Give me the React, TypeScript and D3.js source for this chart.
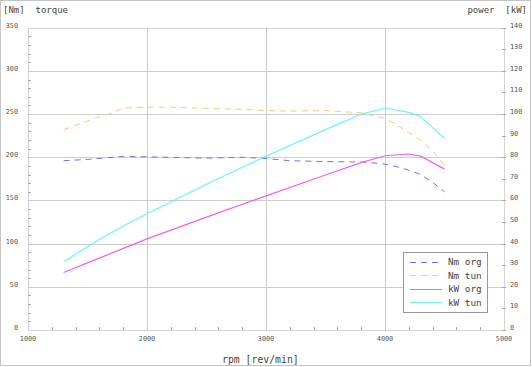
import React from "react";
import * as d3 from "d3";

const rpm = [1300, 1500, 1800, 2000, 2500, 2800, 3000, 3200, 3500, 3800, 3900, 4000, 4100, 4200, 4300, 4400, 4500];
const nmOrg = [196, 197.5, 201, 200.5, 199, 200, 198.5, 196, 195, 194.5, 193.5, 192, 189, 185, 180, 171, 160];
const nmTunRpm = [1300, 1400, 1500, 1600, 1700, 1800, 2000, 2200, 2500, 2800, 3000, 3200, 3500, 3800, 3900, 4000, 4100, 4200, 4300, 4400, 4500];
const nmTunVals = [232, 237, 242, 247, 251, 257, 258, 258, 256.5, 255.5, 254, 253.5, 254, 251.5, 248, 245, 237.5, 228.5, 219.5, 207, 191];
const kwRpm = [1300, 1500, 1600, 1800, 2000, 2500, 3000, 3500, 3800, 4000, 4200, 4300, 4500];
const kwOrg = [26.6, 31.1, 33.3, 37.8, 42.2, 52.3, 62.1, 71.8, 77.5, 80.7, 81.5, 80.5, 74.5];
const kwTun = [31.6, 38.6, 41.9, 48.2, 53.8, 67.5, 80.5, 92.8, 100, 102.8, 100.8, 98.8, 88.7];

const leftTicks = [0, 50, 100, 150, 200, 250, 300, 350];
const rightTicks = [0, 10, 20, 30, 40, 50, 60, 70, 80, 90, 100, 110, 120, 130, 140];
const xTicks = [1000, 2000, 3000, 4000, 5000];
const legendLabels = ["Nm org", "Nm tun", "kW org", "kW tun"];

const W = 532;
const H = 367;
const x = d3.scaleLinear().domain([1000, 5000]).range([28, 504]);
const yL = d3.scaleLinear().domain([0, 350]).range([330, 27.7]);
const yR = d3.scaleLinear().domain([0, 140]).range([330, 27.7]);

const BLUE = "#7272ee";
const ORANGE = "#ffc66c";
const MAGENTA = "#f060f0";
const CYAN = "#66f6f6";
const colors = [BLUE, ORANGE, MAGENTA, CYAN];
const dashes = ["6,5", "6,5", undefined, undefined];

const mono = "'DejaVu Sans Mono', monospace";

export default function App() {
  const lineL = d3.line<[number, number]>().x((d) => x(d[0])).y((d) => yL(d[1]));
  const lineR = d3.line<[number, number]>().x((d) => x(d[0])).y((d) => yR(d[1]));
  const blueD = lineL(rpm.map((r, i) => [r, nmOrg[i]]) as [number, number][]);
  const orangeD = lineL(nmTunRpm.map((r, i) => [r, nmTunVals[i]]) as [number, number][]);
  const pinkD = lineR(kwRpm.map((r, i) => [r, kwOrg[i]]) as [number, number][]);
  const cyanD = lineR(kwRpm.map((r, i) => [r, kwTun[i]]) as [number, number][]);

  const minorY = d3.range(0, 351, 10).filter((v) => v % 50 !== 0);
  const minorX = d3.range(1000, 5001, 200).filter((v) => v % 1000 !== 0);

  const [x0, x1] = x.range();
  const yTop = yL(350);
  const yBot = yL(0);

  return (
    <svg width={W} height={H} style={{ position: "absolute", left: 0, top: 0, background: "#fff" }}>
      <rect x={0.5} y={0.5} width={530} height={365} fill="#fff" stroke="#c4c4c4" />
      {leftTicks.filter((v) => v > 0 && v < 350).map((v) => (
        <line key={"gy" + v} x1={x0} x2={x1} y1={Math.round(yL(v)) + 0.5} y2={Math.round(yL(v)) + 0.5} stroke="#cccccc" />
      ))}
      {xTicks.filter((v) => v > 1000 && v < 5000).map((v) => (
        <line key={"gx" + v} x1={Math.round(x(v)) + 0.5} x2={Math.round(x(v)) + 0.5} y1={yTop} y2={yBot} stroke="#cccccc" />
      ))}
      <rect x={x0 + 0.5} y={Math.round(yTop) + 0.5} width={x1 - x0} height={Math.round(yBot) - Math.round(yTop)} fill="none" stroke="#aaaaaa" strokeDasharray="1,1" />
      {minorY.map((v) => (
        <line key={"my" + v} x1={x0} x2={x0 + 3} y1={Math.round(yL(v)) + 0.5} y2={Math.round(yL(v)) + 0.5} stroke="#aaaaaa" />
      ))}
      {minorX.map((v) => (
        <line key={"mx" + v} x1={Math.round(x(v)) + 0.5} x2={Math.round(x(v)) + 0.5} y1={yBot} y2={yBot - 3} stroke="#aaaaaa" />
      ))}
      {rightTicks.map((v) => (
        <line key={"ry" + v} x1={x1 - 2} x2={x1 + 2} y1={Math.round(yR(v)) + 0.5} y2={Math.round(yR(v)) + 0.5} stroke="#aaaaaa" />
      ))}
      {leftTicks.map((v) => (
        <text key={"ll" + v} x={18} y={yL(v)} textAnchor="end" fontFamily={mono} fontSize={6.8} fill="#555">{v}</text>
      ))}
      {rightTicks.map((v) => (
        <text key={"rl" + v} x={510} y={yR(v)} fontFamily={mono} fontSize={6.8} fill="#555">{v}</text>
      ))}
      {xTicks.map((v) => (
        <text key={"xl" + v} x={x(v)} y={340.5} textAnchor="middle" fontFamily={mono} fontSize={6.8} fill="#555">{v}</text>
      ))}
      <path d={blueD || ""} fill="none" stroke={BLUE} strokeWidth={1} strokeDasharray="6,5" />
      <path d={orangeD || ""} fill="none" stroke={ORANGE} strokeWidth={1} strokeDasharray="6,5" />
      <path d={pinkD || ""} fill="none" stroke={MAGENTA} strokeWidth={1.2} />
      <path d={cyanD || ""} fill="none" stroke={CYAN} strokeWidth={1.2} />
      <text x={3} y={13} fontFamily={mono} fontSize={9} fill="#444" style={{ whiteSpace: "pre" }}>{"[Nm]  torque"}</text>
      <text x={527} y={13} textAnchor="end" fontFamily={mono} fontSize={9} fill="#444" style={{ whiteSpace: "pre" }}>{"power  [kW]"}</text>
      <text x={222} y={363} fontFamily={mono} fontSize={9.8} fill="#444">rpm [rev/min]</text>
      <rect x={403.5} y={252.5} width={84} height={60} fill="#fff" stroke="#999" />
      {legendLabels.map((lab, i) => {
        const yy = 262 + i * 13.4;
        return (
          <g key={lab}>
            <line x1={410} x2={442} y1={Math.round(yy) + 0.5} y2={Math.round(yy) + 0.5} stroke={colors[i]} strokeWidth={1} strokeDasharray={dashes[i]} />
            <text x={448} y={yy + 3.3} fontFamily={mono} fontSize={9.3} fill="#444" style={{ whiteSpace: "pre" }}>{lab}</text>
          </g>
        );
      })}
    </svg>
  );
}
